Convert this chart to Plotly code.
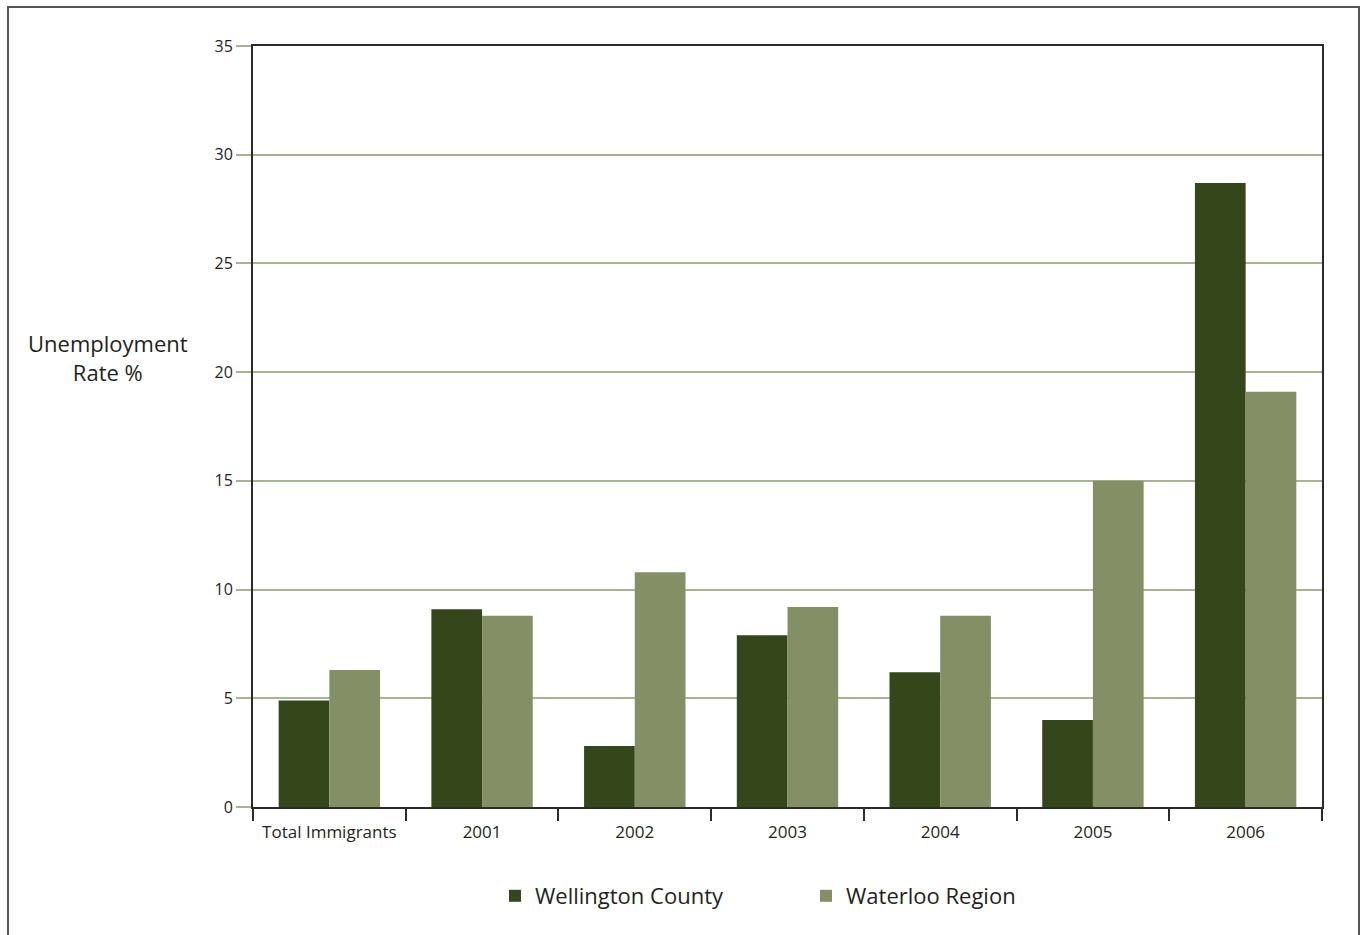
import plotly.graph_objects as go

categories = ["Total Immigrants", "2001", "2002", "2003", "2004", "2005", "2006"]
wellington = [4.9, 9.1, 2.8, 7.9, 6.2, 4.0, 28.7]
waterloo = [6.3, 8.8, 10.8, 9.2, 8.8, 15.0, 19.1]
series_names = ["Wellington County", "Waterloo Region"]
y_ticks = [0, 5, 10, 15, 20, 25, 30, 35]

DARK = "#34461a"
LIGHT = "#848f66"
GRID = "#a9b394"
TXT = "#231f20"
FONT = "Open Sans"

fig = go.Figure()
fig.add_trace(go.Bar(x=categories, y=wellington, name=series_names[0],
                     marker=dict(color=DARK, line=dict(width=0))))
fig.add_trace(go.Bar(x=categories, y=waterloo, name=series_names[1],
                     marker=dict(color=LIGHT, line=dict(width=0))))

W, H = 1361, 935
l, r, t, b = 253, 39, 46, 128
pw, ph = W - l - r, H - t - b

fig.update_layout(
    width=W, height=H,
    margin=dict(l=l, r=r, t=t, b=b, pad=0),
    paper_bgcolor="white", plot_bgcolor="white",
    barmode="group", bargap=0.336, bargroupgap=0,
    font=dict(family=FONT, color=TXT, size=16),
    showlegend=True,
    legend=dict(orientation="h", x=(495 - l) / pw, xanchor="left",
                y=(807 - 896) / ph, yanchor="middle",
                font=dict(size=22, family=FONT, color=TXT),
                entrywidth=266, entrywidthmode="pixels",
                itemsizing="constant", traceorder="normal",
                bgcolor="rgba(0,0,0,0)"),
)

fig.update_xaxes(
    type="category", showline=True, linecolor="#2b2b2b", linewidth=2, mirror=True,
    ticks="outside", tickson="boundaries", ticklen=12, tickwidth=1.5, tickcolor="#2b2b2b",
    ticklabelstandoff=9,
    showgrid=False, tickfont=dict(size=17, family=FONT, color=TXT),
)
fig.update_yaxes(
    range=[0, 35], tickvals=y_ticks, ticktext=[str(v) for v in y_ticks],
    showline=True, linecolor="#2b2b2b", linewidth=2, mirror=True,
    showgrid=True, gridcolor=GRID, gridwidth=1.5,
    ticks="outside", ticklen=15, tickwidth=1.5, tickcolor=GRID,
    tickfont=dict(size=16, family=FONT, color=TXT), zeroline=False,
)

# axis title as horizontal text
fig.add_annotation(text="Unemployment<br>Rate %", xref="paper", yref="paper",
                   x=(108 - l) / pw, y=(807 - 358) / ph, showarrow=False,
                   xanchor="center", yanchor="middle", align="center",
                   font=dict(size=22, family=FONT, color=TXT))

# outer frame
fig.add_shape(type="rect", xref="paper", yref="paper",
              x0=(8 - l) / pw, x1=(1359 - l) / pw,
              y0=(807 - 960) / ph, y1=(807 - 7) / ph,
              line=dict(color="#555555", width=2), fillcolor="rgba(0,0,0,0)", layer="below")

fig.write_html("out.html")
